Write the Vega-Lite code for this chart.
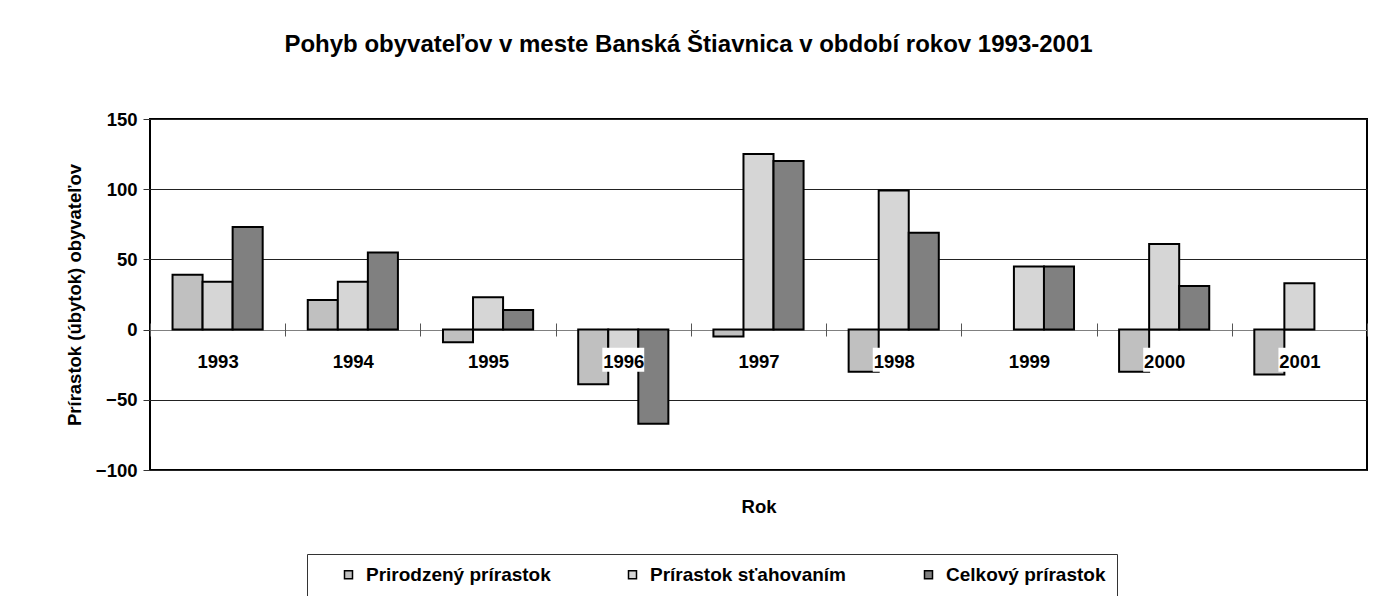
{
  "$schema": "https://vega.github.io/schema/vega-lite/v6.json",
  "width": 1217,
  "height": 351,
  "autosize": "none",
  "padding": {"left": 150, "top": 119, "right": 8, "bottom": 126},
  "background": "#ffffff",
  "title": {
    "text": "Pohyb obyvateľov v meste Banská Štiavnica v období rokov 1993-2001",
    "anchor": "middle",
    "frame": "group",
    "dx": -70,
    "offset": 53,
    "font": "Liberation Sans",
    "fontSize": 24,
    "fontWeight": "bold",
    "color": "#000000"
  },
  "data": {
    "values": [
      {"year": "1993", "series": "Prirodzený prírastok", "value": 39},
      {"year": "1993", "series": "Prírastok sťahovaním", "value": 34},
      {"year": "1993", "series": "Celkový prírastok", "value": 73},
      {"year": "1994", "series": "Prirodzený prírastok", "value": 21},
      {"year": "1994", "series": "Prírastok sťahovaním", "value": 34},
      {"year": "1994", "series": "Celkový prírastok", "value": 55},
      {"year": "1995", "series": "Prirodzený prírastok", "value": -9},
      {"year": "1995", "series": "Prírastok sťahovaním", "value": 23},
      {"year": "1995", "series": "Celkový prírastok", "value": 14},
      {"year": "1996", "series": "Prirodzený prírastok", "value": -39},
      {"year": "1996", "series": "Prírastok sťahovaním", "value": -28},
      {"year": "1996", "series": "Celkový prírastok", "value": -67},
      {"year": "1997", "series": "Prirodzený prírastok", "value": -5},
      {"year": "1997", "series": "Prírastok sťahovaním", "value": 125},
      {"year": "1997", "series": "Celkový prírastok", "value": 120},
      {"year": "1998", "series": "Prirodzený prírastok", "value": -30},
      {"year": "1998", "series": "Prírastok sťahovaním", "value": 99},
      {"year": "1998", "series": "Celkový prírastok", "value": 69},
      {"year": "1999", "series": "Prírastok sťahovaním", "value": 45},
      {"year": "1999", "series": "Celkový prírastok", "value": 45},
      {"year": "2000", "series": "Prirodzený prírastok", "value": -30},
      {"year": "2000", "series": "Prírastok sťahovaním", "value": 61},
      {"year": "2000", "series": "Celkový prírastok", "value": 31},
      {"year": "2001", "series": "Prirodzený prírastok", "value": -32},
      {"year": "2001", "series": "Prírastok sťahovaním", "value": 33}
    ]
  },
  "layer": [
    {
      "mark": {"type": "bar", "stroke": "#000000", "strokeWidth": 2},
      "encoding": {
        "x": {
          "field": "year",
          "type": "nominal",
          "scale": {"paddingInner": 0, "paddingOuter": 0},
          "axis": {
            "title": "Rok",
            "orient": "bottom",
            "offset": -147,
            "domain": false,
            "tickBand": "extent",
            "tickSize": 13,
            "tickColor": "#555555",
            "tickWidth": 1,
            "labelAngle": 0,
            "labelPadding": 16,
            "labelFont": "Liberation Sans",
            "labelFontSize": 18.5,
            "labelFontWeight": "bold",
            "labelColor": "#000000",
            "zindex": 1,
            "titleY": 183,
            "titleBaseline": "middle",
            "titleFont": "Liberation Sans",
            "titleFontSize": 18.5,
            "titleFontWeight": "bold",
            "titleColor": "#000000"
          }
        },
        "xOffset": {
          "field": "series",
          "type": "nominal",
          "scale": {
            "domain": ["Prirodzený prírastok", "Prírastok sťahovaním", "Celkový prírastok"],
            "paddingInner": 0,
            "paddingOuter": 0.75
          }
        },
        "y": {
          "field": "value",
          "type": "quantitative",
          "scale": {"domain": [-100, 150], "nice": false, "zero": true},
          "axis": {
            "title": "Prírastok (úbytok) obyvateľov",
            "values": [-100, -50, 0, 50, 100, 150],
            "grid": true,
            "gridColor": {"condition": {"test": "datum.value === 0", "value": "#808080"}, "value": "#222222"},
            "gridWidth": 1,
            "domain": false,
            "tickColor": "#333333",
            "tickSize": 7,
            "labelPadding": 6,
            "labelFont": "Liberation Sans",
            "labelFontSize": 18.5,
            "labelFontWeight": "bold",
            "labelColor": "#000000",
            "titleFont": "Liberation Sans",
            "titleFontSize": 18.5,
            "titleFontWeight": "bold",
            "titleColor": "#000000",
            "titlePadding": 11
          }
        },
        "color": {
          "field": "series",
          "type": "nominal",
          "scale": {
            "domain": ["Prirodzený prírastok", "Prírastok sťahovaním", "Celkový prírastok"],
            "range": ["#C0C0C0", "#D6D6D6", "#808080"]
          },
          "legend": {"title": null}
        }
      }
    },
    {
      "transform": [{"aggregate": [{"op": "count", "as": "n"}], "groupby": ["year"]}],
      "mark": {"type": "bar", "color": "#ffffff", "width": {"band": 0.31}},
      "encoding": {
        "x": {"field": "year", "type": "nominal"},
        "y": {"datum": -13, "type": "quantitative"},
        "y2": {"datum": -30}
      }
    }
  ],
  "config": {
    "view": {"stroke": "#000000", "strokeWidth": 2},
    "legend": {
      "orient": "none",
      "legendX": 157,
      "legendY": 435,
      "direction": "horizontal",
      "strokeColor": "#333333",
      "fillColor": "#ffffff",
      "padding": 11,
      "symbolType": "square",
      "symbolSize": 64,
      "symbolStrokeColor": "#000000",
      "symbolStrokeWidth": 1.5,
      "symbolOpacity": 1,
      "symbolOffset": 21,
      "labelFont": "Liberation Sans",
      "labelFontSize": 19,
      "labelFontWeight": "bold",
      "labelColor": "#000000",
      "labelOffset": 8,
      "columnPadding": 51,
      "labelLimit": 400
    }
  }
}
